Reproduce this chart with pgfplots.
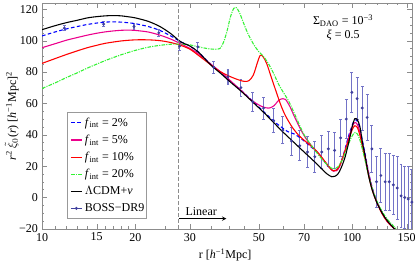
\documentclass[border=0pt]{standalone}
\usepackage{fontspec}
\setmainfont{Liberation Serif}
\usepackage{pgfplots}
\pgfplotsset{compat=1.18}
\definecolor{errc}{rgb}{0.45,0.45,0.78}
\definecolor{ptc}{rgb}{0.25,0.25,0.62}
\definecolor{lgreen}{rgb}{0.2,0.95,0.2}
\begin{document}
\begin{tikzpicture}
\begin{axis}[
 scale only axis, width=308pt, height=188pt,
 xmode=log, log basis x=10, xmin=10, xmax=156, ymin=-20, ymax=124,
 xtick={10,15,20,30,50,70,100,150}, xticklabels={10,15,20,30,50,70,100,150},
 minor xtick={11,12,13,14,16,17,18,19,25,35,40,45,60,80,90,110,120,130,140},
 ytick={-20,0,20,40,60,80,100,120}, yticklabels={−20,0,20,40,60,80,100,120},
 minor y tick num=3,
 axis line style={black!45}, tick style={black!45},
 major tick length=4pt, minor tick length=2pt, tick align=inside,
 xlabel={r [\textit{h}\textsuperscript{−1}Mpc]},
 ylabel={\textit{r}\textsuperscript{2}\,$\tilde{\xi}_0$(\textit{r}) [\textit{h}\textsuperscript{−1}Mpc]\textsuperscript{2}},
 xlabel style={at={(axis description cs:0.495,-0.115)},anchor=center},
 ylabel style={at={(axis description cs:-0.082,0.5)},anchor=center},
 legend style={at={(0.068,0.044)}, anchor=south west, draw=black!40, font=\normalsize, cells={anchor=west}, row sep=1.8pt, inner sep=2.5pt},
 legend image code/.code={\draw[mark repeat=2,mark phase=2,#1] plot coordinates {(0cm,0cm) (0.16cm,0cm) (0.32cm,0cm)};},
 every axis plot/.append style={line width=0.9pt},
]
% BOSS-DR9 data
\addplot[forget plot, only marks, mark=*, mark size=0.7pt, ptc,
  error bars/.cd, y dir=both, y explicit,
  error bar style={errc, line width=0.9pt},
  error mark options={errc, rotate=90, mark size=1.2pt, line width=0.6pt}]
 table[x=r,y=v,y error=e] {
r v e
11.8 108 1.5
15.8 110.5 1.5
19.8 109 2
23.8 105 2.5
27.8 96.5 2.5
31.8 96 3
35.8 83 4
39.8 77 5
43.8 70 5.5
47.8 61 6
51.8 57 7
55.8 49 7.5
59.8 43 8.5
63.8 36 9
67.8 33 9.5
71.8 29 10
75.8 26 10
79.8 29 10.5
83.8 31 11
87.8 30 11.5
91.8 38 12
95.8 50 12.5
99.8 67 13
103.8 63 13.5
107.8 57 14
111.8 51 14.5
115.8 31 15
119.8 10 16
123.8 14 17
127.8 10 18
131.8 10 18
135.8 8 19
139.8 6 20
143.8 1 20
147.8 0 20
151.8 -1 21
155.8 -3 21
};
% f = 2%
\addplot[blue, densely dashed, smooth] table {
10 103
11 105.5
12 107.5
13 109
14 110.3
15 111.2
16 111.8
17 112
18 111.8
19 111.4
20 110.8
22 109
24 106.5
26 103
28 99.3
30 96.5
32 92.5
35 85
38 79
40 75
44 68
48 61
52 54.5
56 48.5
59 45
62 42
65 40.5
68 38
71 35
74 32
78 28
82 22
85 18.5
87 17
89 17.5
91 20
94 28
97 38
100 46
102 49.5
104 48.5
106 44
108 36
110 28.5
113 16
116 6.5
120 -2.5
125 -10
130 -15.5
137 -20
145 -24
};
\addlegendentry{\textit{f}\textsubscript{int} = 2\%}
% f = 5%
\addplot[magenta, smooth] table {
10 95.5
11 98
12 100.3
13 102
14 103.5
15 104.7
16 105.6
17 106.2
18 106.6
19 106.7
20 106.5
22 105.5
24 103.5
26 101
28 98
30 95
32 91.5
35 85
38 79.5
41 73.5
44 68
47 62.5
50 59
52 57.5
54 57
56 58.5
58 62
59.8 63
61 62.5
63 58
65 52
68 44
71 37.5
74 33
78 28
82 22.5
85 18.5
87 16.8
89 17
91 19.5
94 27
97 36.5
100 45
102 47.8
104 46.5
106 41.5
108 34
110 27
113 15.5
116 6
120 -2.5
125 -10
130 -15.5
137 -20
145 -24
};
\addlegendentry{\textit{f}\textsubscript{int} = 5\%}
% f = 10%
\addplot[red, smooth] table {
10 85.5
11 88.5
12 91.2
13 93.5
14 95.5
15 97
16 98.3
18 99.8
20 100.5
22 100.5
24 100
26 98.8
28 97
30 94.5
32 90.5
34 86.5
37 81
40 77.5
43 75
45 74
46.5 74.5
48 78
49.5 86
50.5 90.5
51.5 90
53 85.5
55 76
57 67
59 58.5
61 52
64 45
67 40
70 36.5
74 32.5
78 28
82 22.5
85 18.5
87 17
89 17.5
91 20
94 27.5
97 35.5
100 43
102 45.7
104 44.5
106 39.5
108 32
110 25
113 14
116 5
120 -3
125 -10.5
130 -15.5
137 -20
145 -24
};
\addlegendentry{\textit{f}\textsubscript{int} = 10\%}
% f = 20%
\addplot[lgreen, densely dashdotted, smooth] table {
10 69.5
11 73
12 76.5
13 79.5
14 82.5
15 85
16 87.3
18 91
20 93.8
22 95.8
24 97
26 97.7
28 97.8
30 97.3
32 96
34 95
36 94.5
37.5 95
38.5 99
39.5 106
40.5 115
41.5 120.5
42.3 121
43.3 118
44.5 112
46 105
48 98
50 93
52 89.5
54 84.5
56 78.5
58 72
60 67
62.6 61
66 51
70 40
74 33
78 27
82 22
86 18.5
88 18.3
90 19.5
93 24
96 31
99 37.5
101 40.5
102.5 41.5
104 40.5
106 36.5
108 30.5
110 24
113 14
116 6
120 -2
125 -9
130 -14
138 -19.5
145 -23
};
\addlegendentry{\textit{f}\textsubscript{int} = 20\%}
% LCDM
\addplot[black, smooth] table {
10 107
11 109.5
12 111.5
13 113
14 114.5
15 115.3
16 115.8
17 116
18 115.8
19 115.2
20 114.5
22 112.3
24 109
26 104.5
28 99.3
30 96.5
32 92.5
35 84.5
38 78.5
40 74.5
44 67.5
48 60.5
52 54
56 47.5
60 41.5
65 35
70 29
75 23.5
80 18
83 15
86 13.2
88 13.5
90 15
92 18.5
95 26
98 37
100 45
102 50.2
104 49.5
106 45
108 35
110 27
113 14
116 5
120 -3
125 -10
130 -15
137 -20
145 -24
};
\addlegendentry{$\Lambda$CDM+\textit{ν}}
\addlegendimage{ptc, line width=0.8pt, mark=*, mark size=0.8pt}
\addlegendentry{\makebox[47pt][l]{BOSS−DR9}}
% annotations
\draw[black!45, densely dashed, line width=0.8pt] (axis cs:27.6,-20) -- (axis cs:27.6,124);
\draw[-stealth, line width=0.6pt] (axis cs:27.6,-13.5) -- (axis cs:39.3,-13.5);
\node at (axis cs:32.6,-8.7) {Linear};
\node at (axis cs:93.5,112.8) {Σ\textsubscript{DAO} = 10\textsuperscript{−3}};
\node at (axis cs:93.5,103.6) {\textit{ξ} = 0.5};
\end{axis}
\pgfresetboundingbox
\path ([shift={(-35pt,-29.2pt)}]current axis.south west) rectangle ([shift={(2.5pt,2.5pt)}]current axis.north east);
\end{tikzpicture}
\end{document}
